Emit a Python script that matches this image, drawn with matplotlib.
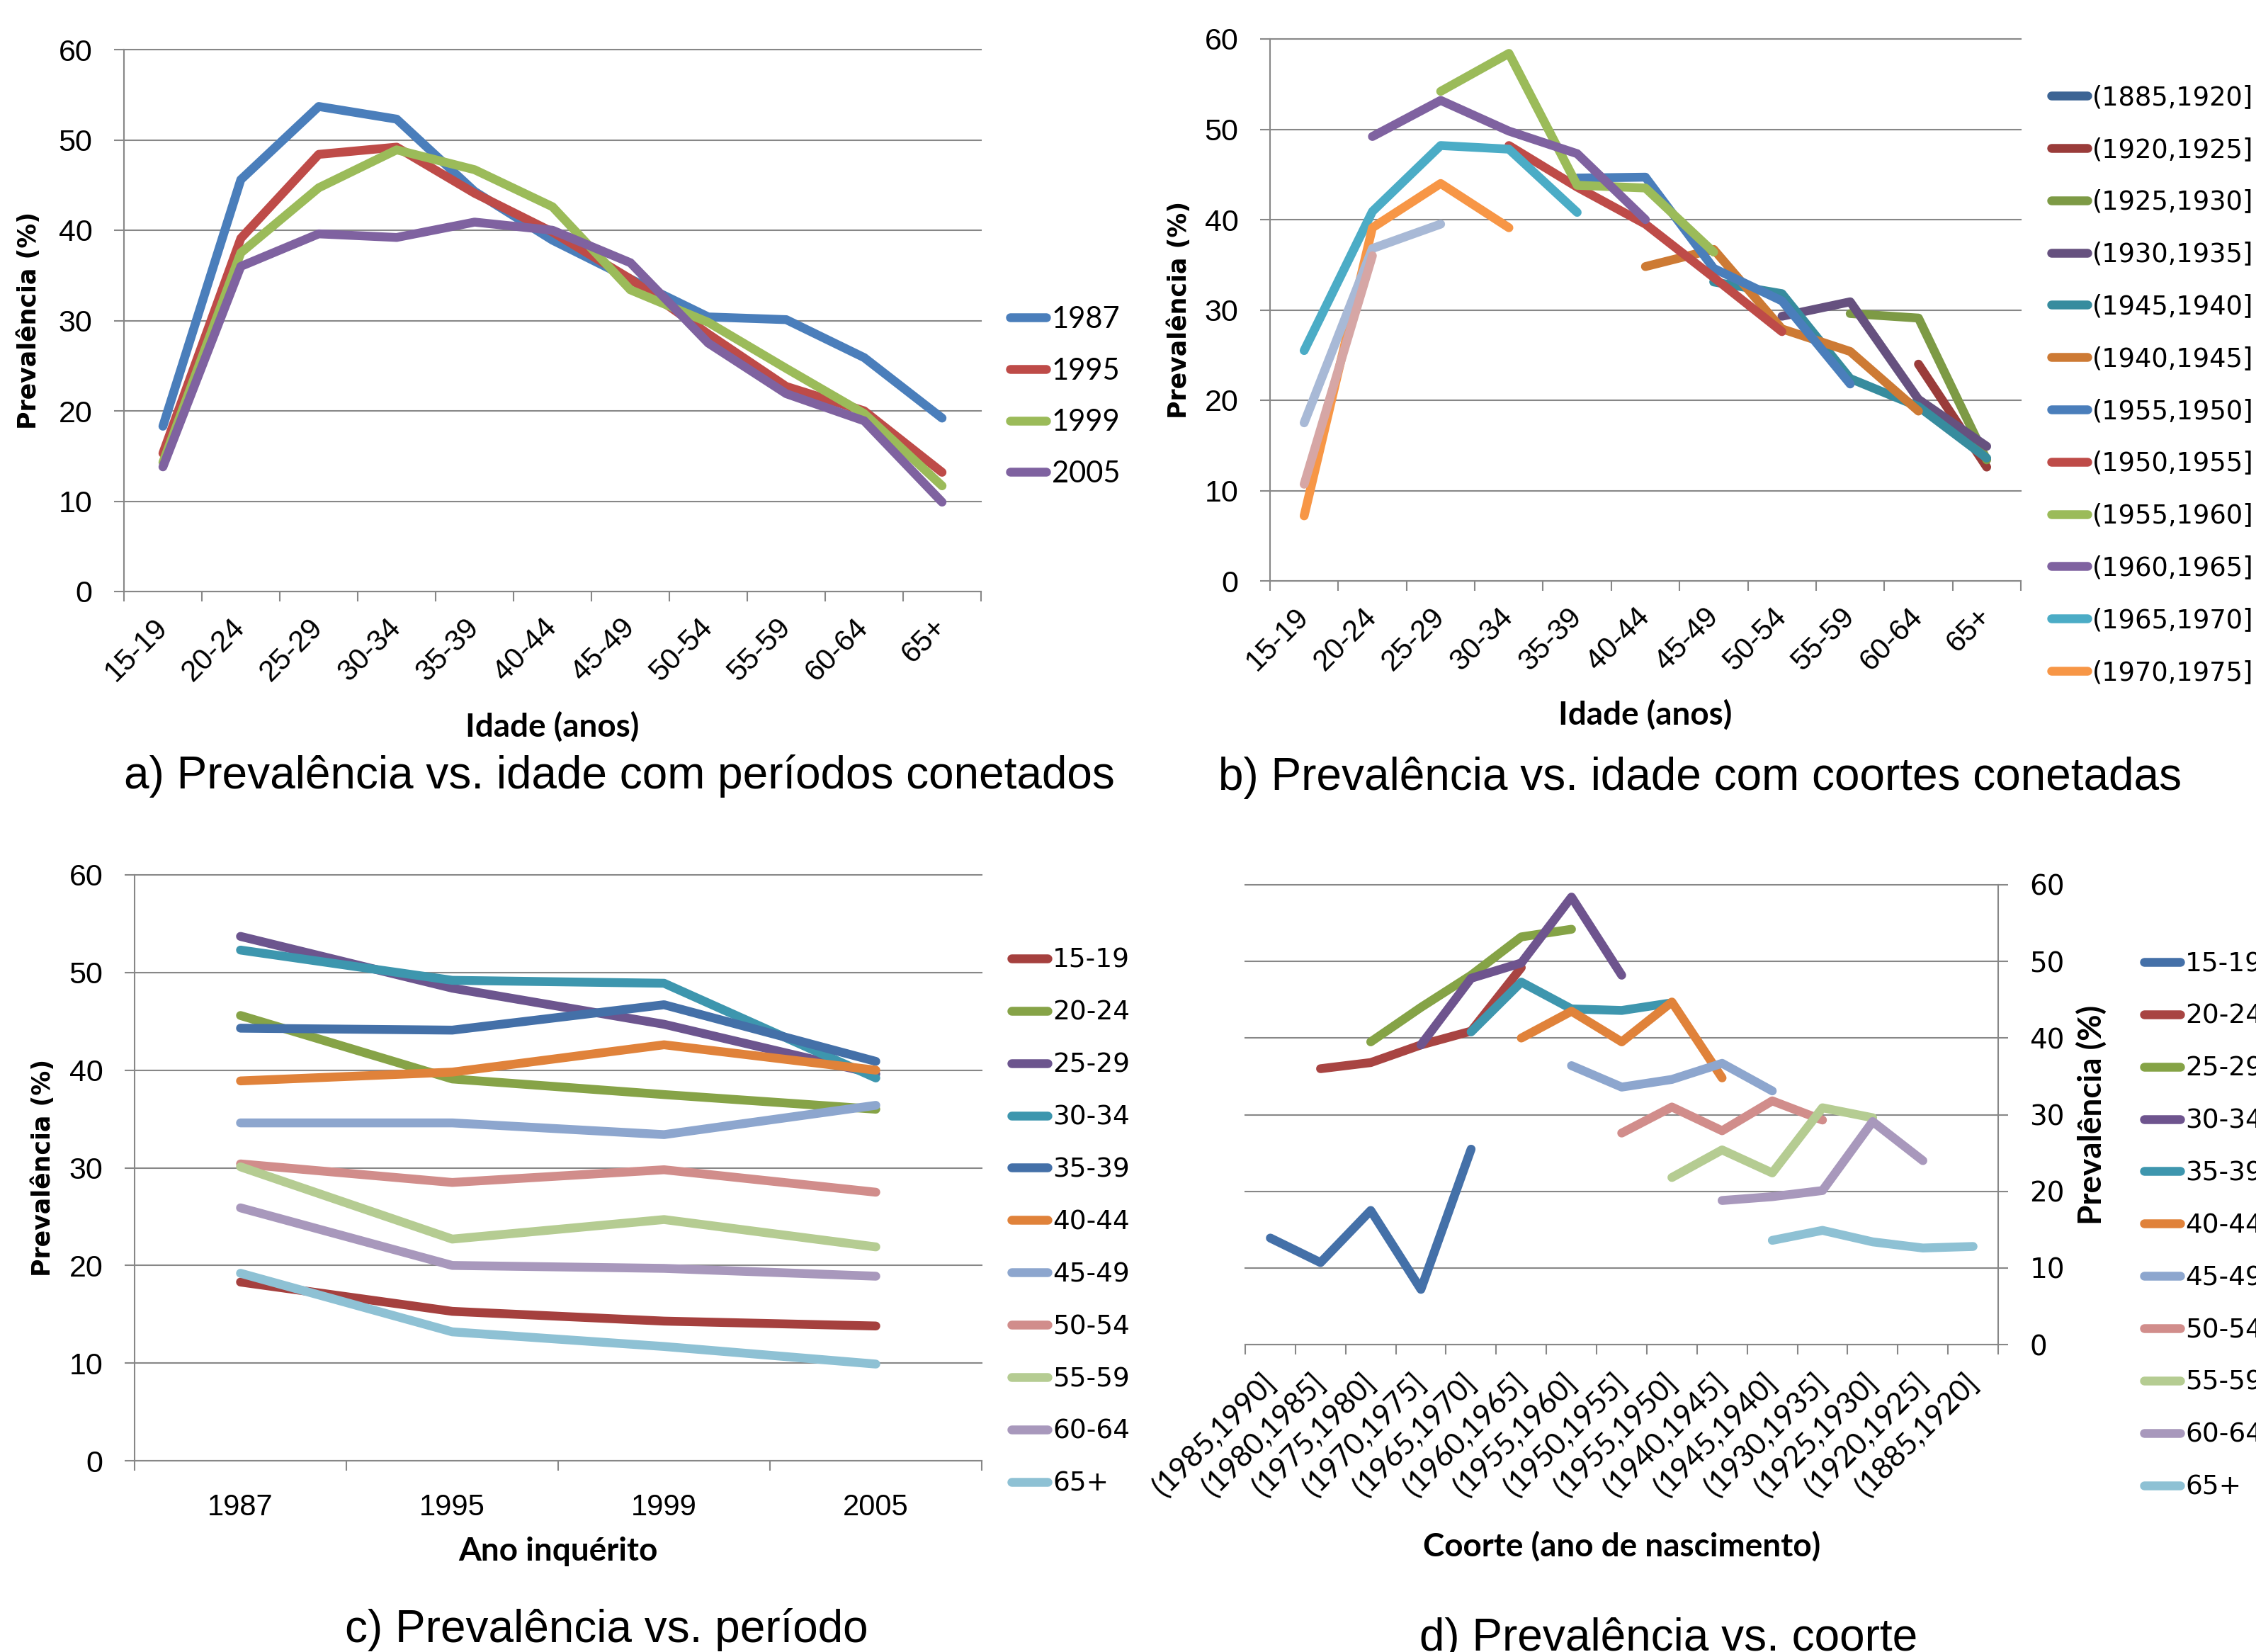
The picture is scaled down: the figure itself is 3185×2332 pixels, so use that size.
import numpy as np
import matplotlib
matplotlib.use('Agg')
import matplotlib.pyplot as plt

W, H = 3185, 2332
nan = np.nan

# ---- data -------------------------------------------------------------
idades = ['15-19', '20-24', '25-29', '30-34', '35-39', '40-44',
          '45-49', '50-54', '55-59', '60-64', '65+']
anos = ['1987', '1995', '1999', '2005']

# prevalence by age group, one list per survey year
prev_1987 = [18.3, 45.6, 53.7, 52.3, 44.3, 38.9, 34.6, 30.4, 30.1, 25.9, 19.2]
prev_1995 = [15.3, 39.1, 48.4, 49.2, 44.1, 39.8, 34.6, 28.5, 22.7, 20.0, 13.2]
prev_1999 = [14.3, 37.5, 44.7, 48.9, 46.7, 42.6, 33.4, 29.8, 24.7, 19.7, 11.7]
prev_2005 = [13.8, 36.0, 39.6, 39.2, 40.9, 40.0, 36.4, 27.5, 21.9, 18.9, 9.9]

coortes = ['(1985,1990]', '(1980,1985]', '(1975,1980]', '(1970,1975]',
           '(1965,1970]', '(1960,1965]', '(1955,1960]', '(1950,1955]',
           '(1955,1950]', '(1940,1945]', '(1945,1940]', '(1930,1935]',
           '(1925,1930]', '(1920,1925]', '(1885,1920]']

# prevalence by cohort, one list per age group (same order as coortes)
coorte_15_19 = [13.9, 10.7, 17.5, 7.2, 25.5, nan, nan, nan, nan, nan, nan, nan, nan, nan, nan]
coorte_20_24 = [nan, 36.0, 36.8, 39.1, 40.9, 49.2, nan, nan, nan, nan, nan, nan, nan, nan, nan]
coorte_25_29 = [nan, nan, 39.5, 44.0, 48.2, 53.2, 54.2, nan, nan, nan, nan, nan, nan, nan, nan]
coorte_30_34 = [nan, nan, nan, 39.1, 47.8, 49.8, 58.4, 48.2, nan, nan, nan, nan, nan, nan, nan]
coorte_35_39 = [nan, nan, nan, nan, 40.8, 47.3, 43.8, 43.6, 44.6, nan, nan, nan, nan, nan, nan]
coorte_40_44 = [nan, nan, nan, nan, nan, 40.0, 43.5, 39.5, 44.7, 34.8, nan, nan, nan, nan, nan]
coorte_45_49 = [nan, nan, nan, nan, nan, nan, 36.4, 33.6, 34.6, 36.7, 33.1, nan, nan, nan, nan]
coorte_50_54 = [nan, nan, nan, nan, nan, nan, nan, 27.6, 31.0, 27.9, 31.8, 29.3, nan, nan, nan]
coorte_55_59 = [nan, nan, nan, nan, nan, nan, nan, nan, 21.8, 25.4, 22.4, 30.9, 29.6, nan, nan]
coorte_60_64 = [nan, nan, nan, nan, nan, nan, nan, nan, nan, 18.8, 19.3, 20.1, 29.1, 24.0, nan]
coorte_65 = [nan, nan, nan, nan, nan, nan, nan, nan, nan, nan, 13.6, 14.9, 13.4, 12.6, 12.8]

# ---- colours ----------------------------------------------------------
cores_anos = ['#4A7EBB', '#BE4B48', '#9BBB59', '#7F62A0']
cores_c = ['#A5403E', '#86A347', '#6C558E', '#3D96AE', '#4470A8', '#E0823A',
           '#8DA6CE', '#D18D8B', '#B5CC92', '#A898BC', '#8EC1D4']
cores_d = ['#4470A8', '#A84442', '#85A346', '#6E548E', '#3E96AE', '#E0823A',
           '#8DA6CE', '#D18D8B', '#B5CC92', '#A898BC', '#8EC1D4']
# panel b colours, in the same order as coortes
cores_b = ['#C3D69B', '#D6A6A5', '#A8B9D6', '#F79646', '#4BACC6', '#7F62A0',
           '#9BBB59', '#BE4B48', '#4A7EBB', '#CD7A34', '#378C9E', '#66517F',
           '#7D9A45', '#9A3C3A', '#3C6494']

GRID = '#878787'
LW = 9
ARIAL = 'Liberation Sans'
CALIBRI = 'Lato'
VERDANA = 'DejaVu Sans'

fig = plt.figure(figsize=(W / 100, H / 100), dpi=100)


def add_panel(left, top, right, bottom):
    return fig.add_axes([left / W, 1 - bottom / H, (right - left) / W, (bottom - top) / H])


def style(ax, n, right=False):
    ax.set_ylim(0, 60)
    ax.set_yticks(range(0, 61, 10))
    ax.set_xlim(-0.5, n - 0.5)
    ax.set_xticks(np.arange(n + 1) - 0.5)
    ax.set_xticklabels([])
    ax.set_xticks(np.arange(n), minor=True)
    ax.grid(axis='y', color=GRID, lw=1.5, zorder=0)
    for g in ax.yaxis.get_gridlines():
        g.set_clip_on(False)
    for s in ['top', 'left', 'right']:
        ax.spines[s].set_visible(False)
    ax.spines['bottom'].set_color(GRID)
    ax.spines['bottom'].set_linewidth(1.5)
    side = 'right' if right else 'left'
    ax.spines[side].set_visible(True)
    ax.spines[side].set_color(GRID)
    ax.spines[side].set_linewidth(1.5)
    if right:
        ax.yaxis.tick_right()
        ax.yaxis.set_label_position('right')
    ax.tick_params(axis='x', which='major', length=10, width=1.5, color=GRID)
    ax.tick_params(axis='x', which='minor', length=0)
    ax.tick_params(axis='y', length=10, width=1.5, color=GRID)


def line(ax, x, y, color, label):
    ax.plot(x, y, color=color, lw=LW, solid_capstyle='round',
            solid_joinstyle='round', label=label, zorder=3)


def legend(ax, handles, labels, x, y, fs, family, spacing):
    ax.legend(handles, labels, loc='upper left', bbox_to_anchor=(x / W, 1 - y / H),
              bbox_transform=fig.transFigure, frameon=False, borderpad=0,
              borderaxespad=0, handlelength=36.5 / fs, handletextpad=0.2,
              labelspacing=spacing, prop={'family': family, 'size': fs})


def ylabel(ax, xpos, fs, family):
    ax.set_ylabel('Prevalência (%)', fontsize=fs, fontweight='bold', family=family)
    ax.yaxis.set_label_coords(xpos, 0.5)
    ax.yaxis.label.set_va('center')


def xlabel(ax, text, ypos):
    ax.set_xlabel(text, fontsize=33, fontweight='bold', family=CALIBRI)
    ax.xaxis.set_label_coords(0.5, ypos)
    ax.xaxis.label.set_va('center')


def yticks(ax, fs, family):
    ax.tick_params(axis='y', labelsize=fs, pad=22)
    for t in ax.get_yticklabels():
        t.set_family(family)


# ---- a) prevalence vs age, periods connected --------------------------
ax = add_panel(175, 70, 1385, 835)
style(ax, len(idades))
x = np.arange(len(idades))
for vals, cor, ano in zip([prev_1987, prev_1995, prev_1999, prev_2005], cores_anos, anos):
    line(ax, x, vals, cor, ano)
ax.set_xticklabels(idades, minor=True, rotation=45, ha='right', va='center',
                   rotation_mode='anchor', fontsize=30, family=ARIAL)
ax.tick_params(axis='x', which='minor', pad=32)
yticks(ax, 31, ARIAL)
ylabel(ax, -0.111, 25, VERDANA)
xlabel(ax, 'Idade (anos)', -0.25)
h, l = ax.get_legend_handles_labels()
legend(ax, h, l, 1426, 432, 30, CALIBRI, 0.83)

# ---- b) prevalence vs age, cohorts connected --------------------------
ax = add_panel(1793, 55, 2853, 820)
style(ax, len(idades))
por_idade = [coorte_15_19, coorte_20_24, coorte_25_29, coorte_30_34, coorte_35_39,
             coorte_40_44, coorte_45_49, coorte_50_54, coorte_55_59, coorte_60_64, coorte_65]
tabela = np.array(por_idade, dtype=float)  # ages x cohorts
na_legenda = coortes[3:]
for j in reversed(range(len(coortes))):
    lab = coortes[j] if coortes[j] in na_legenda else '_nolegend_'
    line(ax, x, tabela[:, j], cores_b[j], lab)
ax.set_xticklabels(idades, minor=True, rotation=45, ha='right', va='center',
                   rotation_mode='anchor', fontsize=30, family=ARIAL)
ax.tick_params(axis='x', which='minor', pad=32)
yticks(ax, 31, ARIAL)
ylabel(ax, -0.121, 25, VERDANA)
xlabel(ax, 'Idade (anos)', -0.247)
h, l = ax.get_legend_handles_labels()
legend(ax, h, l, 2896, 119, 26.5, VERDANA, 1.0)

# ---- c) prevalence vs period -----------------------------------------
ax = add_panel(190, 1235, 1386, 2062)
style(ax, len(anos))
xc = np.arange(len(anos))
por_ano = np.array([prev_1987, prev_1995, prev_1999, prev_2005], dtype=float)
for i, idade in enumerate(idades):
    line(ax, xc, por_ano[:, i], cores_c[i], idade)
ax.set_xticklabels(anos, minor=True, fontsize=30, family=ARIAL)
ax.tick_params(axis='x', which='minor', pad=33)
yticks(ax, 31, ARIAL)
ylabel(ax, -0.108, 25, VERDANA)
xlabel(ax, 'Ano inquérito', -0.155)
h, l = ax.get_legend_handles_labels()
legend(ax, h, l, 1428, 1338, 27, VERDANA, 1.01)

# ---- d) prevalence vs cohort -----------------------------------------
ax = add_panel(1758, 1249, 2821, 1898)
style(ax, len(coortes), right=True)
xd = np.arange(len(coortes))
for i, idade in enumerate(idades):
    line(ax, xd, por_idade[i], cores_d[i], idade)
ax.set_xticklabels(coortes, minor=True, rotation=45, ha='right', va='center',
                   rotation_mode='anchor', fontsize=30, family=CALIBRI)
ax.tick_params(axis='x', which='minor', pad=34)
yticks(ax, 28, VERDANA)
ylabel(ax, 1.124, 33, CALIBRI)
xlabel(ax, 'Coorte (ano de nascimento)', -0.439)
h, l = ax.get_legend_handles_labels()
legend(ax, h, l, 3027, 1343, 27, VERDANA, 1.01)

# ---- captions ---------------------------------------------------------
cap = dict(fontsize=46, family=ARIAL, ha='center', va='baseline')
fig.text(874 / W, 1 - 1113 / H, 'a) Prevalência vs. idade com períodos conetados', **cap)
fig.text(2400 / W, 1 - 1115 / H, 'b) Prevalência vs. idade com coortes conetadas', **cap)
fig.text(856 / W, 1 - 2318 / H, 'c) Prevalência vs. período', **cap)
fig.text(2356 / W, 1 - 2330 / H, 'd) Prevalência vs. coorte', **cap)

fig.savefig('out.png', dpi=100, facecolor='white')
